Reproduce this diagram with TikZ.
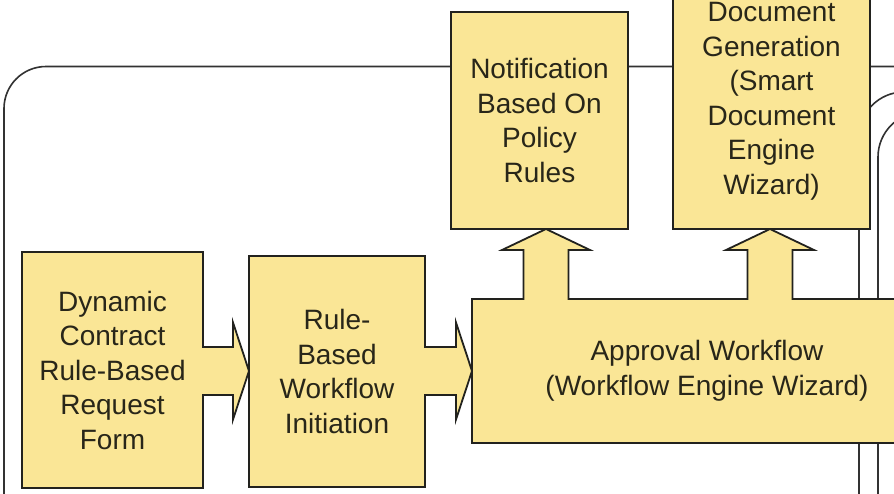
\documentclass[tikz,border=0pt]{standalone}
\usepackage{fontspec}
\setmainfont{Liberation Sans}
\usetikzlibrary{calc}
\definecolor{boxfill}{RGB}{250,230,150}
\definecolor{linec}{RGB}{34,34,30}
\definecolor{framec}{RGB}{50,50,50}
\definecolor{txt}{RGB}{40,38,25}
\tikzset{
  box/.style={draw=linec, line width=1.8pt, fill=boxfill, align=center, text=txt,
    font=\fontsize{28}{34.5}\selectfont, inner sep=0pt, outer sep=0pt},
  frameline/.style={draw=framec, line width=1.6pt},
  arrfill/.style={fill=boxfill},
  arrline/.style={draw=linec, line width=1.8pt, line join=miter}
}
\begin{document}
\begin{tikzpicture}[x=1pt,y=-1pt]
\useasboundingbox (0,0) rectangle (894,493);
\clip (0,0) rectangle (894,493);
\fill[white] (0,0) rectangle (894,493);
% frames
\draw[frameline, rounded corners=42pt] (4,66.5) rectangle (1000,600);
\draw[frameline, rounded corners=45pt] (859,92) rectangle (1000,600);
\draw[frameline, rounded corners=45pt] (878,112) rectangle (1000,600);
% boxes
\node[box, minimum width=470pt, minimum height=144pt] (C) at (707,371) {Approval Workflow\\(Workflow Engine Wizard)};
\node[box, minimum width=181pt, minimum height=236pt] (A) at (112.5,370) {Dynamic\\Contract\\Rule-Based\\Request\\Form};
\node[box, minimum width=176pt, minimum height=231pt] (B) at (337,371.5) {Rule-\\Based\\Workflow\\Initiation};
\node[box, minimum width=177pt, minimum height=217pt] (N) at (539.5,120.5) {Notification\\Based On\\Policy\\Rules};
\node[box, minimum width=197pt, minimum height=255pt] (D) at (771.5,101.5) {Document\\Generation\\(Smart\\Document\\Engine\\Wizard)};
% horizontal block arrows
\coordinate (T1) at ($(B.west)+(0,-0.5)$);
\coordinate (T2) at ($(C.west)+(0,0)$);
\foreach \s/\t in {A/T1, B/T2} {
  \fill[arrfill] ($(\s.east|-\t)+(-2.5,-24)$) -- ($(\t)+(-16,-24)$) -- ($(\t)+(-16,-48.5)$) -- (\t)
     -- ($(\t)+(-16,48.5)$) -- ($(\t)+(-16,24)$) -- ($(\s.east|-\t)+(-2.5,24)$) -- cycle;
  \draw[arrline] ($(\s.east|-\t)+(-0.9,-24)$) -- ($(\t)+(-16,-24)$) -- ($(\t)+(-16,-48.5)$) -- (\t)
     -- ($(\t)+(-16,48.5)$) -- ($(\t)+(-16,24)$) -- ($(\s.east|-\t)+(-0.9,24)$);
}
% vertical block arrows
\coordinate (U1) at ($(N.south)+(6.5,0)$);
\coordinate (U2) at ($(D.south)+(-1.5,0)$);
\foreach \t in {U1, U2} {
  \fill[arrfill] ($(\t|-C.north)+(-22.5,2.5)$) -- ($(\t)+(-22.5,21)$) -- ($(\t)+(-44,21)$) -- (\t)
     -- ($(\t)+(44,21)$) -- ($(\t)+(22.5,21)$) -- ($(\t|-C.north)+(22.5,2.5)$) -- cycle;
  \draw[arrline] ($(\t|-C.north)+(-22.5,0.9)$) -- ($(\t)+(-22.5,21)$) -- ($(\t)+(-44,21)$) -- (\t)
     -- ($(\t)+(44,21)$) -- ($(\t)+(22.5,21)$) -- ($(\t|-C.north)+(22.5,0.9)$);
}
\end{tikzpicture}
\end{document}
